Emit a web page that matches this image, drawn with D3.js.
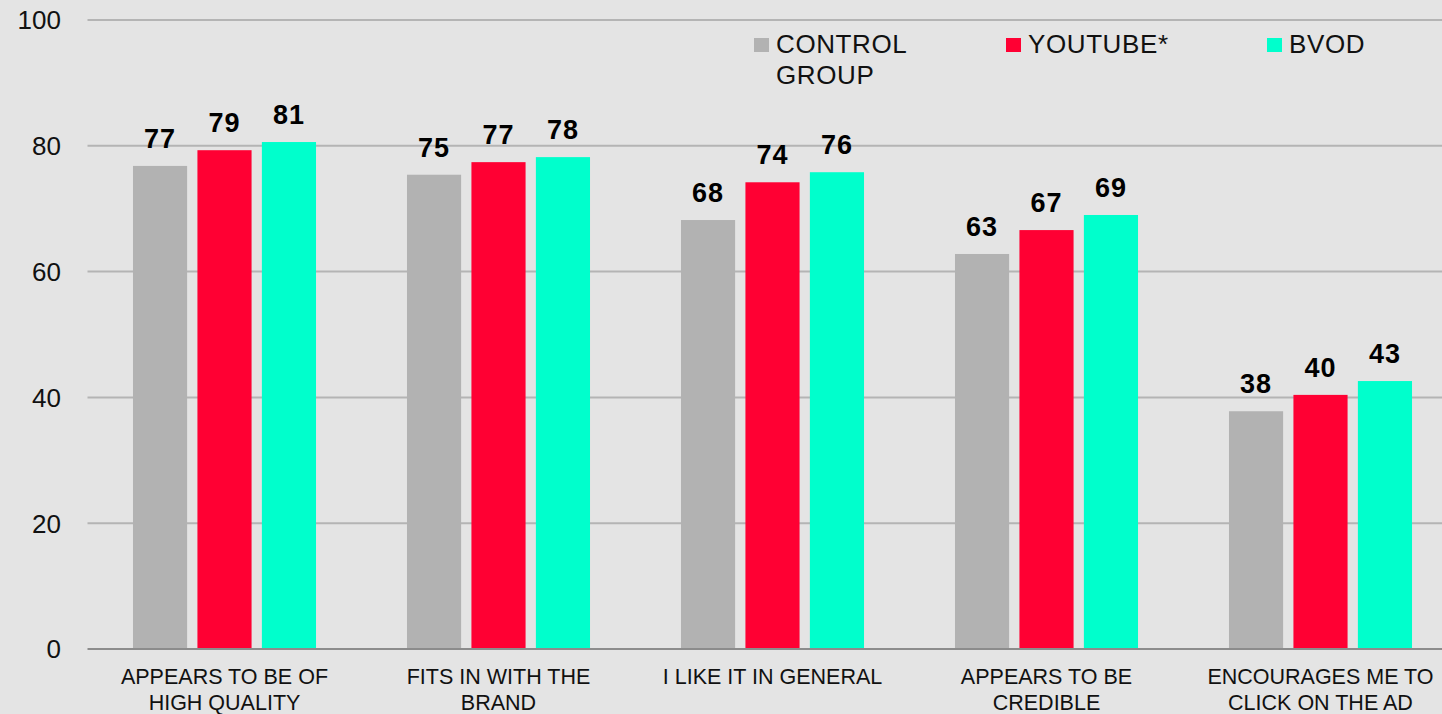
<!DOCTYPE html>
<html>
<head>
<meta charset="utf-8">
<script src="https://cdn.jsdelivr.net/npm/d3@7"></script>
<style>
  html, body { margin: 0; padding: 0; background: #e4e4e4; overflow: hidden; }
  svg { display: block; font-family: "Liberation Sans", Arial, sans-serif; }
</style>
</head>
<body>
<div id="chart"></div>
<script>
// Chart data
const categories = [
  ["APPEARS TO BE OF", "HIGH QUALITY"],
  ["FITS IN WITH THE", "BRAND"],
  ["I LIKE IT IN GENERAL"],
  ["APPEARS TO BE", "CREDIBLE"],
  ["ENCOURAGES ME TO", "CLICK ON THE AD"]
];
const seriesNames = ["CONTROL GROUP", "YOUTUBE*", "BVOD"];
const controlGroup = [76.8, 75.4, 68.2, 62.8, 37.8];
const youtube = [79.3, 77.4, 74.2, 66.6, 40.4];
const bvod = [80.6, 78.2, 75.8, 69.0, 42.6];
const yTicks = [0, 20, 40, 60, 80, 100];

const colors = ["#b2b2b2", "#ff0033", "#00ffcc"];

const width = 1442, height = 714;
const margin = {top: 20, left: 87.5, bottom: 65};

const svg = d3.select("#chart")
  .append("svg")
  .attr("width", width)
  .attr("height", height);

svg.append("rect")
  .attr("width", width)
  .attr("height", height)
  .attr("fill", "#e4e4e4");

// group scale: 274px per category, plot runs past the right edge
const x0 = d3.scaleBand()
  .domain(d3.range(categories.length))
  .range([margin.left, margin.left + 274 * categories.length])
  .paddingInner(0.332)
  .paddingOuter(0.166);

const x1 = d3.scaleBand()
  .domain(seriesNames)
  .range([0, x0.bandwidth()])
  .paddingInner(0.16);

const y = d3.scaleLinear()
  .domain([0, 100])
  .range([height - margin.bottom, margin.top]);

// gridlines
svg.append("g")
  .selectAll("line")
  .data(yTicks)
  .join("line")
  .attr("x1", margin.left)
  .attr("x2", width)
  .attr("y1", d => y(d))
  .attr("y2", d => y(d))
  .attr("stroke", d => d === 0 ? "#8c8c8c" : "#b4b4b4")
  .attr("stroke-width", 2);

// y tick labels
svg.append("g")
  .selectAll("text")
  .data(yTicks)
  .join("text")
  .attr("x", 61)
  .attr("y", d => y(d))
  .attr("dy", "0.36em")
  .attr("text-anchor", "end")
  .attr("font-size", 26)
  .attr("fill", "#111")
  .text(d => d);

const series = seriesNames.map((name, i) => ({
  name: name,
  values: [controlGroup, youtube, bvod][i]
}));

const rows = categories.map((c, ci) => series.map((s, si) => ({
  cat: ci, name: s.name, color: colors[si], value: s.values[ci]
})));

const groups = svg.append("g")
  .selectAll("g")
  .data(rows)
  .join("g")
  .attr("transform", (d, i) => `translate(${x0(i)},0)`);

groups.selectAll("rect")
  .data(d => d)
  .join("rect")
  .attr("x", d => x1(d.name))
  .attr("y", d => y(d.value))
  .attr("width", x1.bandwidth())
  .attr("height", d => y(0) - y(d.value) - 1)
  .attr("fill", d => d.color);

groups.selectAll("text")
  .data(d => d)
  .join("text")
  .attr("x", d => x1(d.name) + x1.bandwidth() / 2)
  .attr("y", d => y(d.value) - 18)
  .attr("text-anchor", "middle")
  .attr("font-size", 27)
  .attr("font-weight", "bold")
  .attr("letter-spacing", 1)
  .attr("fill", "#000")
  .text(d => d3.format(".0f")(d.value));

// category labels
const catLabels = svg.append("g")
  .selectAll("text")
  .data(categories)
  .join("text")
  .attr("x", (d, i) => x0(i) + x0.bandwidth() / 2)
  .attr("y", 684)
  .attr("text-anchor", "middle")
  .attr("font-size", 21.5)
  .attr("fill", "#111");

catLabels.selectAll("tspan")
  .data(d => d)
  .join("tspan")
  .attr("x", function() { return this.parentNode.getAttribute("x"); })
  .attr("dy", (d, i) => i === 0 ? 0 : 25.5)
  .text(d => d);

// legend
const legendX = [754, 1006, 1267];
const legend = svg.append("g")
  .selectAll("g")
  .data(seriesNames)
  .join("g")
  .attr("transform", (d, i) => `translate(${legendX[i]},0)`);

legend.append("rect")
  .attr("y", 38)
  .attr("width", 15)
  .attr("height", 14)
  .attr("fill", (d, i) => colors[i]);

legend.append("text")
  .attr("y", 53)
  .attr("font-size", 26)
  .attr("letter-spacing", 0.6)
  .attr("fill", "#111")
  .selectAll("tspan")
  .data(d => d === "CONTROL GROUP" ? ["CONTROL", "GROUP"] : [d])
  .join("tspan")
  .attr("x", 22)
  .attr("dy", (d, i) => i === 0 ? 0 : 31)
  .text(d => d);
</script>
</body>
</html>
